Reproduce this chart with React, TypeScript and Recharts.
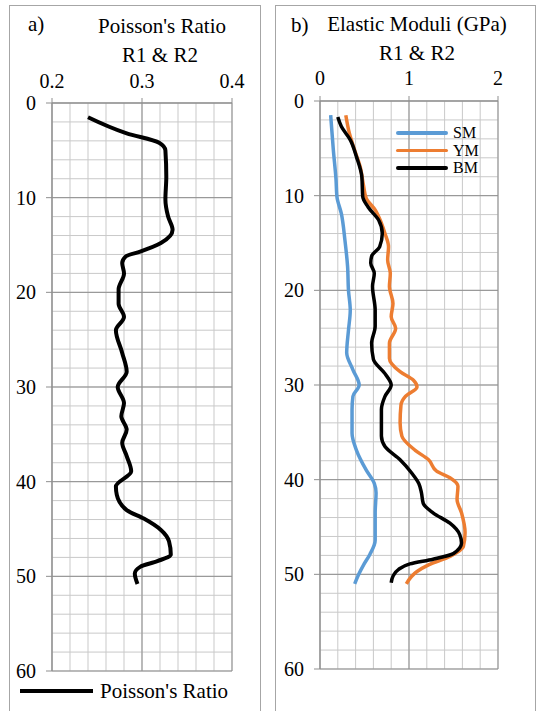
import React from 'react';
import { ScatterChart, Scatter, XAxis, YAxis, ReferenceLine, Legend } from 'recharts';

// depth (m) ticks shared by both panels
const depthTicks = [0, 10, 20, 30, 40, 50, 60];
const poissonTicks = [0.2, 0.3, 0.4];
const moduliTicks = [0, 1, 2];

// a) Poisson's ratio
const prDepth = [1.5, 3.2, 4.2, 5.0, 7.8, 10.2, 12.0, 13.4, 14.8, 15.7, 16.2, 16.9, 18.0, 19.7, 21.2, 22.6, 24.0, 26.4, 28.4, 30.0, 31.7, 33.1, 34.5, 35.9, 37.3, 38.9, 40.5, 41.4, 43.0, 43.9, 45.1, 46.3, 47.7, 48.4, 49.0, 49.7, 50.8];
const prValue = [0.240, 0.283, 0.319, 0.326, 0.327, 0.326, 0.329, 0.334, 0.321, 0.298, 0.282, 0.278, 0.280, 0.274, 0.274, 0.280, 0.271, 0.278, 0.283, 0.273, 0.280, 0.277, 0.283, 0.278, 0.283, 0.288, 0.271, 0.272, 0.283, 0.302, 0.321, 0.330, 0.332, 0.317, 0.298, 0.292, 0.295];

// b) elastic moduli (GPa)
const smDepth = [1.5, 5.2, 8.3, 10.1, 11.9, 14.7, 17.5, 20.0, 22.1, 24.2, 26.6, 28.4, 30.0, 31.2, 32.6, 35.1, 36.9, 39.0, 40.4, 41.4, 43.5, 46.4, 47.9, 49.0, 50.1, 51.0];
const smValue = [0.12, 0.15, 0.18, 0.19, 0.24, 0.28, 0.31, 0.32, 0.34, 0.32, 0.30, 0.37, 0.44, 0.37, 0.36, 0.36, 0.41, 0.52, 0.61, 0.63, 0.62, 0.62, 0.56, 0.49, 0.43, 0.39];

const ymDepth = [1.5, 3.4, 5.2, 6.9, 9.0, 10.3, 11.5, 12.9, 14.0, 15.4, 16.8, 18.2, 19.6, 21.4, 22.8, 24.0, 25.6, 27.2, 28.6, 29.5, 30.2, 31.2, 32.1, 34.0, 35.4, 36.9, 37.9, 39.1, 39.8, 40.7, 42.1, 43.5, 45.6, 47.1, 48.1, 49.0, 49.7, 51.0];
const ymValue = [0.29, 0.33, 0.39, 0.45, 0.49, 0.52, 0.62, 0.69, 0.73, 0.77, 0.76, 0.79, 0.78, 0.82, 0.80, 0.85, 0.78, 0.78, 0.90, 1.05, 1.09, 0.96, 0.91, 0.90, 0.92, 1.07, 1.22, 1.31, 1.46, 1.55, 1.54, 1.59, 1.63, 1.61, 1.46, 1.22, 1.09, 0.97];

const bmDepth = [1.7, 2.7, 4.1, 5.9, 8.0, 10.1, 11.2, 12.6, 14.0, 15.4, 16.4, 17.1, 18.2, 19.6, 22.1, 23.8, 25.6, 27.3, 28.8, 30.0, 31.2, 32.6, 35.4, 36.5, 37.9, 39.3, 40.4, 41.4, 42.5, 43.5, 44.6, 45.8, 46.7, 47.8, 48.4, 48.9, 49.5, 50.2, 50.9];
const bmValue = [0.20, 0.24, 0.34, 0.41, 0.47, 0.48, 0.54, 0.66, 0.70, 0.67, 0.58, 0.57, 0.61, 0.59, 0.62, 0.62, 0.58, 0.60, 0.73, 0.80, 0.73, 0.69, 0.69, 0.73, 0.90, 1.03, 1.11, 1.14, 1.16, 1.27, 1.46, 1.57, 1.59, 1.50, 1.27, 1.01, 0.88, 0.82, 0.80];

const zip = (depth: number[], value: number[]) => depth.map((d, i) => ({ d, v: value[i] }));

const prData = zip(prDepth, prValue);
const smData = zip(smDepth, smValue);
const ymData = zip(ymDepth, ymValue);
const bmData = zip(bmDepth, bmValue);

const FONT = '"Liberation Serif", "Times New Roman", serif';
const MINOR = '#c9c9c9';
const MAJOR = '#8f8f8f';

const steps = (from: number, to: number, step: number) => {
  const out: number[] = [];
  for (let i = 0; from + i * step <= to + 1e-9; i++) out.push(+(from + i * step).toFixed(4));
  return out;
};

const depthMinor = steps(0, 60, 2);
const prMinor = steps(0.2, 0.4, 0.02);
const moduliMinor = steps(0, 2, 0.2);

const noDot = () => <g />;

const gridLines = (xMinor: number[], xMajor: number[]) => [
  ...depthMinor.map((y) => <ReferenceLine key={'hm' + y} y={y} stroke={MINOR} strokeWidth={1} />),
  ...xMinor.map((x) => <ReferenceLine key={'vm' + x} x={x} stroke={MINOR} strokeWidth={1} />),
  ...depthTicks.map((y) => <ReferenceLine key={'hM' + y} y={y} stroke={MAJOR} strokeWidth={1} />),
  ...xMajor.map((x) => <ReferenceLine key={'vM' + x} x={x} stroke={MAJOR} strokeWidth={1} />),
];

// serif tick labels (top axis: baseline above the tick, left axis: centred on the tick)
const TopTick = (props: any) => {
  const { x, y, payload } = props;
  return (
    <text x={x} y={y} textAnchor="middle" fontFamily={FONT} fontSize={20} fill="#000">
      {payload.value}
    </text>
  );
};
const LeftTick = (props: any) => {
  const { x, y, payload } = props;
  return (
    <text x={x} y={y} dy={7} textAnchor="end" fontFamily={FONT} fontSize={20} fill="#000">
      {payload.value}
    </text>
  );
};

const PoissonLegend = () => (
  <div style={{ display: 'flex', alignItems: 'center', height: 24, fontFamily: FONT, fontSize: 21, whiteSpace: 'nowrap' }}>
    <div style={{ width: 73, height: 4, background: '#000' }} />
    <span style={{ marginLeft: 7, lineHeight: '24px', fontFamily: FONT }}>Poisson's Ratio</span>
  </div>
);

const moduliItems = [
  { name: 'SM', color: '#5B9BD5' },
  { name: 'YM', color: '#ED7D31' },
  { name: 'BM', color: '#000000' },
];

const ModuliLegend = () => (
  <div style={{ fontFamily: FONT, fontSize: 16, whiteSpace: 'nowrap' }}>
    {moduliItems.map((it) => (
      <div key={it.name} style={{ display: 'flex', alignItems: 'center', height: 17.5 }}>
        <div style={{ width: 52, height: 3.5, background: it.color, borderRadius: 2 }} />
        <span style={{ marginLeft: 5, lineHeight: '17.5px', fontFamily: FONT }}>{it.name}</span>
      </div>
    ))}
  </div>
);

export default function App() {
  return (
    <div style={{ position: 'absolute', left: 0, top: 0, width: 538, height: 711, background: '#fff', overflow: 'hidden', fontFamily: FONT }}>
      <svg width={538} height={711} style={{ position: 'absolute', left: 0, top: 0 }}>
        <rect x={9.5} y={5.5} width={251} height={720} fill="none" stroke="#a6a6a6" />
        <rect x={275.5} y={5.5} width={260} height={720} fill="none" stroke="#a6a6a6" />
        <g fontFamily={FONT} fontSize={21} fill="#000">
          <text x={28} y={31}>a)</text>
          <text x={162} y={33} textAnchor="middle">Poisson's Ratio</text>
          <text x={160} y={62} textAnchor="middle">R1 &amp; R2</text>
          <text x={291} y={32}>b)</text>
          <text x={417} y={31} textAnchor="middle">Elastic Moduli (GPa)</text>
          <text x={417} y={60} textAnchor="middle">R1 &amp; R2</text>
        </g>
      </svg>

      <div style={{ position: 'absolute', left: 0, top: 0 }}>
        <ScatterChart width={270} height={711} margin={{ top: 73, right: 38, bottom: 40, left: 0 }}>
          {gridLines(prMinor, poissonTicks)}
          <XAxis type="number" dataKey="v" orientation="top" domain={[0.2, 0.4]} ticks={poissonTicks}
            height={30} tickSize={5} tickMargin={10} stroke={MAJOR} tick={TopTick} allowDataOverflow />
          <YAxis type="number" dataKey="d" reversed domain={[0, 60]} ticks={depthTicks}
            width={52} tickSize={6} tickMargin={10} stroke={MAJOR} tick={LeftTick} allowDataOverflow />
          <Scatter name="Poisson's Ratio" data={prData} fill="#000" shape={noDot}
            line={{ stroke: '#000', strokeWidth: 4 }} lineJointType="monotoneY" isAnimationActive={false} />
          <Legend layout="vertical" align="center" verticalAlign="middle" content={PoissonLegend}
            wrapperStyle={{ left: 20, top: 679, width: 'auto', height: 'auto' }} />
        </ScatterChart>
      </div>

      <div style={{ position: 'absolute', left: 270, top: 0 }}>
        <ScatterChart width={268} height={711} margin={{ top: 71, right: 40, bottom: 42, left: 0 }}>
          {gridLines(moduliMinor, moduliTicks)}
          <XAxis type="number" dataKey="v" orientation="top" domain={[0, 2]} ticks={moduliTicks}
            height={30} tickSize={5} tickMargin={11} stroke={MAJOR} tick={TopTick} allowDataOverflow />
          <YAxis type="number" dataKey="d" reversed domain={[0, 60]} ticks={depthTicks}
            width={50} tickSize={6} tickMargin={10} stroke={MAJOR} tick={LeftTick} allowDataOverflow />
          <Scatter name="SM" data={smData} fill="#5B9BD5" shape={noDot}
            line={{ stroke: '#5B9BD5', strokeWidth: 3.5 }} lineJointType="monotoneY" isAnimationActive={false} />
          <Scatter name="YM" data={ymData} fill="#ED7D31" shape={noDot}
            line={{ stroke: '#ED7D31', strokeWidth: 3.5 }} lineJointType="monotoneY" isAnimationActive={false} />
          <Scatter name="BM" data={bmData} fill="#000" shape={noDot}
            line={{ stroke: '#000', strokeWidth: 3.5 }} lineJointType="monotoneY" isAnimationActive={false} />
          <Legend layout="vertical" align="center" verticalAlign="middle" content={ModuliLegend}
            wrapperStyle={{ left: 126, top: 124, width: 'auto', height: 'auto' }} />
        </ScatterChart>
      </div>
    </div>
  );
}
